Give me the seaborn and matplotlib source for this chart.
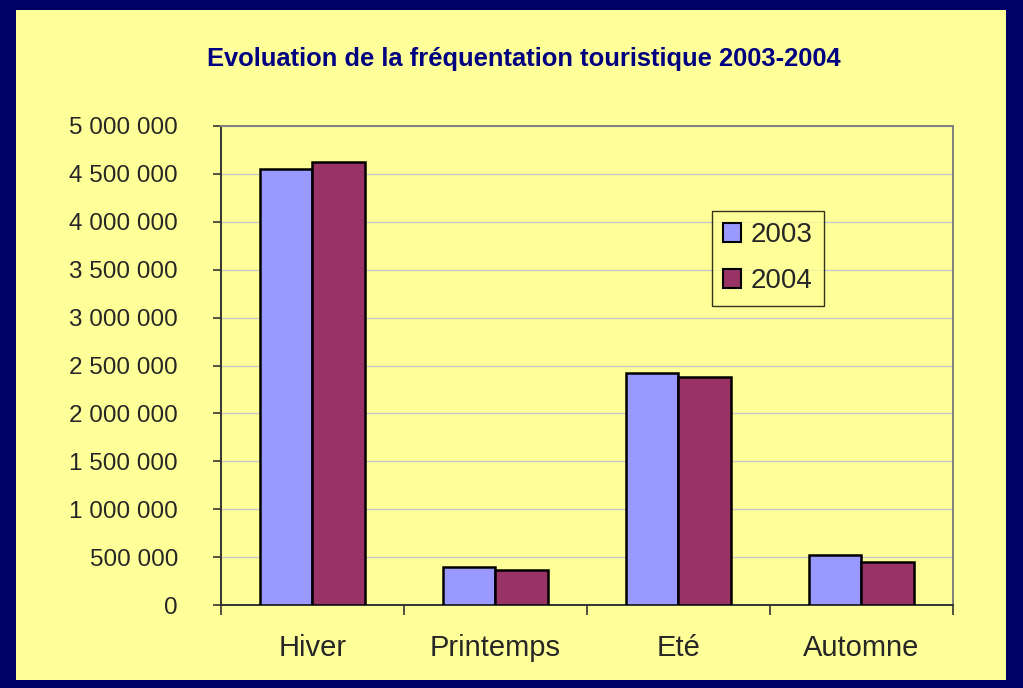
import pandas as pd
import matplotlib.pyplot as plt
import matplotlib.patches as mpatches
from matplotlib.ticker import FuncFormatter, FixedLocator
import seaborn as sns

# --- données ---
saisons = ["Hiver", "Printemps", "Eté", "Automne"]
annees = ["2003", "2004"]
val_2003 = [4550000, 393000, 2423000, 519000]
val_2004 = [4628000, 369000, 2378000, 450000]

df = pd.DataFrame({
    "Saison": saisons * 2,
    "Année": ["2003"] * 4 + ["2004"] * 4,
    "Visiteurs": val_2003 + val_2004,
})

# --- style ---
sns.set_theme(style="white")
plt.rcParams["font.family"] = ["Liberation Sans", "DejaVu Sans"]

NAVY = "#000066"
YELLOW = "#FFFF99"
couleurs = ["#9999FF", "#993366"]

fig = plt.figure(figsize=(10.23, 6.88), dpi=100)
fig.patch.set_facecolor(NAVY)
fig.patches.append(mpatches.Rectangle((16 / 1023, 8 / 688), 990 / 1023, 670 / 688,
                                      transform=fig.transFigure, facecolor=YELLOW,
                                      edgecolor="none", zorder=-10))

ax = fig.add_axes([0.216, 0.1206, 0.7155, 0.6963])
ax.set_facecolor(YELLOW)

sns.barplot(data=df, x="Saison", y="Visiteurs", hue="Année", palette=couleurs,
            width=0.57, saturation=1, edgecolor="black", linewidth=1.8, ax=ax,
            errorbar=None, zorder=3)

ax.set_ylim(0, 5000000)
ax.set_xlim(-0.5, 3.5)
ax.set_yticks(range(0, 5000001, 500000))
ax.yaxis.set_major_formatter(FuncFormatter(lambda v, p: f"{int(v):,}".replace(",", " ")))
ax.grid(axis="y", color="#C8C8C8", linewidth=1, zorder=0)
ax.set_axisbelow(True)

ax.set_xlabel("")
ax.set_ylabel("")
ax.tick_params(axis="y", which="major", direction="out", length=6, width=1.2,
               color="#333333", labelsize=17.5, pad=25, left=True)
ax.tick_params(axis="x", which="major", length=0, labelsize=21, pad=21)
ax.xaxis.set_minor_locator(FixedLocator([-0.5, 0.5, 1.5, 2.5, 3.5]))
ax.tick_params(axis="x", which="minor", direction="out", length=7, width=1.2,
               color="#333333", bottom=True)

for s in ["left", "bottom"]:
    ax.spines[s].set_color("#333333")
    ax.spines[s].set_linewidth(1.4)
for s in ["top", "right"]:
    ax.spines[s].set_color("#808080")
    ax.spines[s].set_linewidth(1.4)

leg = ax.legend(loc="upper left", bbox_to_anchor=(0.671, 0.8225), borderaxespad=0,
                fontsize=20, frameon=True, fancybox=False, facecolor=YELLOW,
                edgecolor="black", handlelength=0.65, handleheight=0.65,
                handletextpad=0.35, labelspacing=0.73, borderpad=0.4)
leg.get_frame().set_linewidth(1.0)
for h in leg.legend_handles:
    h.set_edgecolor("black")
    h.set_linewidth(1.5)

fig.text(0.512, 0.914, "Evoluation de la fréquentation touristique 2003-2004",
         ha="center", va="center", fontsize=18.4, fontweight="bold", color="#000080")

fig.savefig("out.png", dpi=100, facecolor=fig.get_facecolor())
